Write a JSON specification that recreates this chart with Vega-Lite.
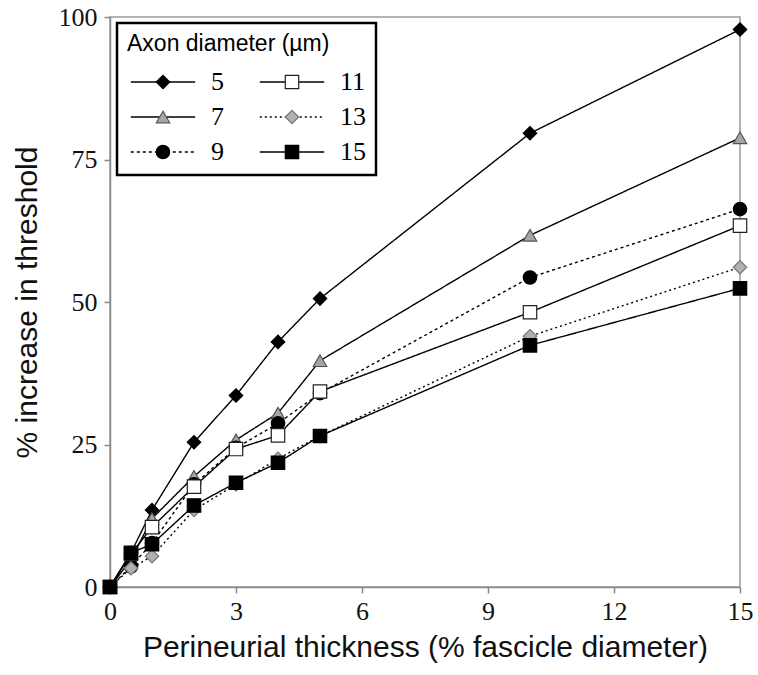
{
  "$schema": "https://vega.github.io/schema/vega-lite/v6.json",
  "width": 630,
  "height": 570,
  "autosize": "none",
  "padding": {"left": 110, "top": 17, "right": 18, "bottom": 88},
  "background": "white",
  "config": {
    "view": {"stroke": "#9a9a9a", "strokeWidth": 1.5},
    "legend": {"strokeWidth": 2.5},
    "axis": {"grid": false, "labelFlush": false, "domainColor": "#8a8a8a", "domainWidth": 1.5, "tickColor": "#8a8a8a", "tickWidth": 1.5, "tickSize": 6,
             "labelFont": "Liberation Serif", "labelFontSize": 26, "labelColor": "#111",
             "titleFont": "Liberation Sans", "titleFontSize": 30, "titleFontWeight": "normal", "titleColor": "#111"}
  },
  "data": {"values": [
    {"x": 0, "y": 0, "d": 5}, {"x": 0.5, "y": 6, "d": 5}, {"x": 1, "y": 13.5, "d": 5}, {"x": 2, "y": 25.4, "d": 5}, {"x": 3, "y": 33.6, "d": 5}, {"x": 4, "y": 43, "d": 5}, {"x": 5, "y": 50.6, "d": 5}, {"x": 10, "y": 79.6, "d": 5}, {"x": 15, "y": 97.8, "d": 5},
    {"x": 0, "y": 0, "d": 7}, {"x": 0.5, "y": 4.8, "d": 7}, {"x": 1, "y": 12, "d": 7}, {"x": 2, "y": 19.4, "d": 7}, {"x": 3, "y": 25.8, "d": 7}, {"x": 4, "y": 30.5, "d": 7}, {"x": 5, "y": 39.7, "d": 7}, {"x": 10, "y": 61.7, "d": 7}, {"x": 15, "y": 78.8, "d": 7},
    {"x": 0, "y": 0, "d": 9}, {"x": 0.5, "y": 3.6, "d": 9}, {"x": 1, "y": 7.7, "d": 9}, {"x": 2, "y": 18, "d": 9}, {"x": 3, "y": 24.4, "d": 9}, {"x": 4, "y": 28.7, "d": 9}, {"x": 5, "y": 34, "d": 9}, {"x": 10, "y": 54.3, "d": 9}, {"x": 15, "y": 66.3, "d": 9},
    {"x": 0, "y": 0, "d": 11}, {"x": 0.5, "y": 5.8, "d": 11}, {"x": 1, "y": 10.5, "d": 11}, {"x": 2, "y": 17.6, "d": 11}, {"x": 3, "y": 24.2, "d": 11}, {"x": 4, "y": 26.6, "d": 11}, {"x": 5, "y": 34.3, "d": 11}, {"x": 10, "y": 48.2, "d": 11}, {"x": 15, "y": 63.4, "d": 11},
    {"x": 0, "y": 0, "d": 13}, {"x": 0.5, "y": 3.3, "d": 13}, {"x": 1, "y": 5.4, "d": 13}, {"x": 2, "y": 13.5, "d": 13}, {"x": 3, "y": 18, "d": 13}, {"x": 4, "y": 22.5, "d": 13}, {"x": 5, "y": 26.5, "d": 13}, {"x": 10, "y": 44, "d": 13}, {"x": 15, "y": 56.1, "d": 13},
    {"x": 0, "y": 0, "d": 15}, {"x": 0.5, "y": 6, "d": 15}, {"x": 1, "y": 7.5, "d": 15}, {"x": 2, "y": 14.3, "d": 15}, {"x": 3, "y": 18.3, "d": 15}, {"x": 4, "y": 21.8, "d": 15}, {"x": 5, "y": 26.5, "d": 15}, {"x": 10, "y": 42.4, "d": 15}, {"x": 15, "y": 52.4, "d": 15}
  ]},
  "encoding": {
    "x": {"field": "x", "type": "quantitative", "scale": {"domain": [0, 15], "nice": false},
          "axis": {"values": [0, 3, 6, 9, 12, 15], "title": "Perineurial thickness (% fascicle diameter)", "labelPadding": 5, "titlePadding": 8}},
    "y": {"field": "y", "type": "quantitative", "scale": {"domain": [0, 100], "nice": false},
          "axis": {"values": [0, 25, 50, 75, 100], "title": "% increase in threshold", "labelPadding": 7, "titlePadding": 16}}
  },
  "layer": [
    {
      "mark": {"type": "line", "color": "black", "strokeWidth": 1.4},
      "encoding": {
        "strokeDash": {"field": "d", "type": "ordinal",
          "scale": {"domain": [5, 7, 9, 11, 13, 15], "range": [[1, 0], [1, 0], [3, 3], [1, 0], [2, 3], [1, 0]]},
          "legend": {"orient": "none", "legendX": 7, "legendY": 6, "title": "Axon diameter (µm)",
            "titleFont": "Liberation Sans", "titleFontSize": 23, "titleFontWeight": "normal", "titleColor": "transparent", "titlePadding": 13, "titleLimit": 400,
            "columns": 2, "columnPadding": 32, "rowPadding": 9,
            "symbolType": "M-4.8,0H4.8", "symbolSize": 180, "symbolStrokeWidth": 1.5, "symbolStrokeColor": "black", "symbolFillColor": "transparent", "symbolOffset": 23,
            "labelFont": "Liberation Serif", "labelFontSize": 26, "labelColor": "transparent", "labelOffset": 35,
            "padding": 10,
            "values": [5, 7, 9, 11, 13, 15]}
        }
      }
    },
    {
      "mark": {"type": "point", "filled": true, "size": 180, "strokeWidth": 1.2, "opacity": 1},
      "encoding": {
        "shape": {"field": "d", "type": "ordinal",
          "scale": {"range": ["diamond", "triangle-up", "circle", "square", "diamond", "square"]},
          "legend": {"orient": "none", "legendX": 7, "legendY": 6, "title": "Axon diameter (µm)",
            "titleFont": "Liberation Sans", "titleFontSize": 23, "titleFontWeight": "normal", "titleColor": "black", "titlePadding": 13, "titleLimit": 400,
            "columns": 2, "columnPadding": 32, "rowPadding": 9,
            "labelFont": "Liberation Serif", "labelFontSize": 26, "labelColor": "black", "labelOffset": 35,
            "symbolOffset": 23, "symbolSize": 180, "symbolStrokeWidth": 1.2,
            "padding": 10, "strokeColor": "black",
            "values": [5, 7, 9, 11, 13, 15]}},
        "fill": {"field": "d", "type": "ordinal",
          "scale": {"range": ["black", "#a6a6a6", "black", "white", "#b0b0b0", "black"]}},
        "stroke": {"field": "d", "type": "ordinal",
          "scale": {"range": ["black", "#555555", "black", "#222222", "#777777", "black"]}}
      }
    }
  ]
}
